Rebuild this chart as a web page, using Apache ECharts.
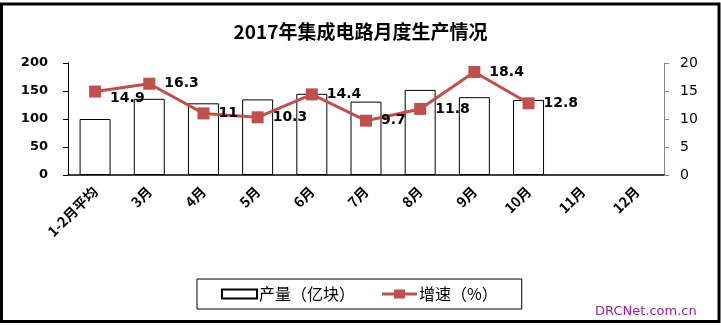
<!DOCTYPE html>
<html>
<head>
<meta charset="utf-8">
<script src="https://cdn.jsdelivr.net/npm/echarts@6/dist/echarts.min.js"></script>
<style>
html,body{margin:0;padding:0;background:#fff;}
#c{width:721px;height:326px;}
</style>
</head>
<body>
<div id="c"></div>
<script>
const title = '2017年集成电路月度生产情况';
const categories = ['1-2月平均','3月','4月','5月','6月','7月','8月','9月','10月','11月','12月'];
const output = [100, 136, 128, 135, 145, 131, 152, 139, 134, null, null];
const growth = [14.9, 16.3, 11, 10.3, 14.4, 9.7, 11.8, 18.4, 12.8, null, null];
const leftTicks = [0, 50, 100, 150, 200];
const rightTicks = [0, 5, 10, 15, 20];
const seriesNames = ['产量（亿块）', '增速（%）'];
const watermark = 'DRCNet.com.cn';

const chart = echarts.init(document.getElementById('c'), null, {renderer: 'canvas'});
const numFont = 'DejaVu Sans';
const cjkFont = '"Noto Sans CJK SC", "DejaVu Sans", sans-serif';

const growthData = growth.map((v, i) => {
  if (i === 0) return {value: v, label: {offset: [0, 7]}};
  return v;
});

chart.setOption({
  backgroundColor: '#ffffff',
  animation: false,
  title: {
    text: title,
    left: 'center',
    top: 17,
    textStyle: {fontFamily: cjkFont, fontSize: 19, fontWeight: 'bold', color: '#000'}
  },
  legend: {
    left: 197,
    top: 279,
    padding: [7, 24, 7, 24],
    itemGap: 27,
    itemWidth: 35,
    itemHeight: 9,
    borderColor: '#000',
    borderWidth: 1,
    textStyle: {fontFamily: cjkFont, fontSize: 16, color: '#000', padding: [0, 0, 0, -3]},
    data: [
      {name: seriesNames[0], icon: 'rect'},
      {name: seriesNames[1], icon: 'path://M0,3 H12 V0 H23 V3 H35 V6 H23 V9 H12 V6 H0 Z'}
    ]
  },
  grid: {left: 68, right: 57, top: 63, bottom: 151, containLabel: false},
  xAxis: {
    type: 'category',
    data: categories,
    axisLine: {show: true, lineStyle: {color: '#000', width: 1.5}},
    axisTick: {show: false},
    axisLabel: {
      rotate: 45,
      interval: 0,
      margin: 14,
      fontFamily: cjkFont,
      fontSize: 14,
      fontWeight: 'bold',
      color: '#000'
    }
  },
  yAxis: [
    {
      type: 'value',
      min: leftTicks[0],
      max: leftTicks[leftTicks.length - 1],
      interval: 50,
      axisLine: {show: true, lineStyle: {color: '#000', width: 1}},
      axisTick: {show: true, length: 5, lineStyle: {color: '#000'}},
      splitLine: {show: false},
      axisLabel: {margin: 20, fontFamily: numFont, fontSize: 13, fontWeight: 'bold', color: '#000'}
    },
    {
      type: 'value',
      min: rightTicks[0],
      max: rightTicks[rightTicks.length - 1],
      interval: 5,
      position: 'right',
      axisLine: {show: true, lineStyle: {color: '#888', width: 1}},
      axisTick: {show: true, length: 5, lineStyle: {color: '#888'}},
      splitLine: {show: false},
      axisLabel: {margin: 16, fontFamily: numFont, fontSize: 14, color: '#000'}
    }
  ],
  series: [
    {
      name: seriesNames[0],
      type: 'bar',
      yAxisIndex: 0,
      data: output,
      barWidth: 31,
      itemStyle: {color: '#ffffff', borderColor: '#000', borderWidth: 1}
    },
    {
      name: seriesNames[1],
      type: 'line',
      yAxisIndex: 1,
      data: growthData,
      symbol: 'rect',
      symbolSize: 12,
      lineStyle: {color: '#c0504d', width: 3},
      itemStyle: {color: '#c0504d'},
      label: {
        show: true,
        position: 'right',
        distance: 9,
        fontFamily: numFont,
        fontSize: 14,
        fontWeight: 'bold',
        color: '#000'
      },
      z: 5
    }
  ],
  graphic: [
    {
      type: 'rect',
      shape: {x: 1.5, y: 4, width: 717.5, height: 317.5},
      style: {fill: 'none', stroke: '#000', lineWidth: 3},
      silent: true
    },
    {
      type: 'text',
      left: 595,
      top: 305,
      style: {text: watermark, fill: '#9b1ba6', font: '13px "DejaVu Sans"'},
      silent: true
    }
  ]
});
</script>
</body>
</html>
